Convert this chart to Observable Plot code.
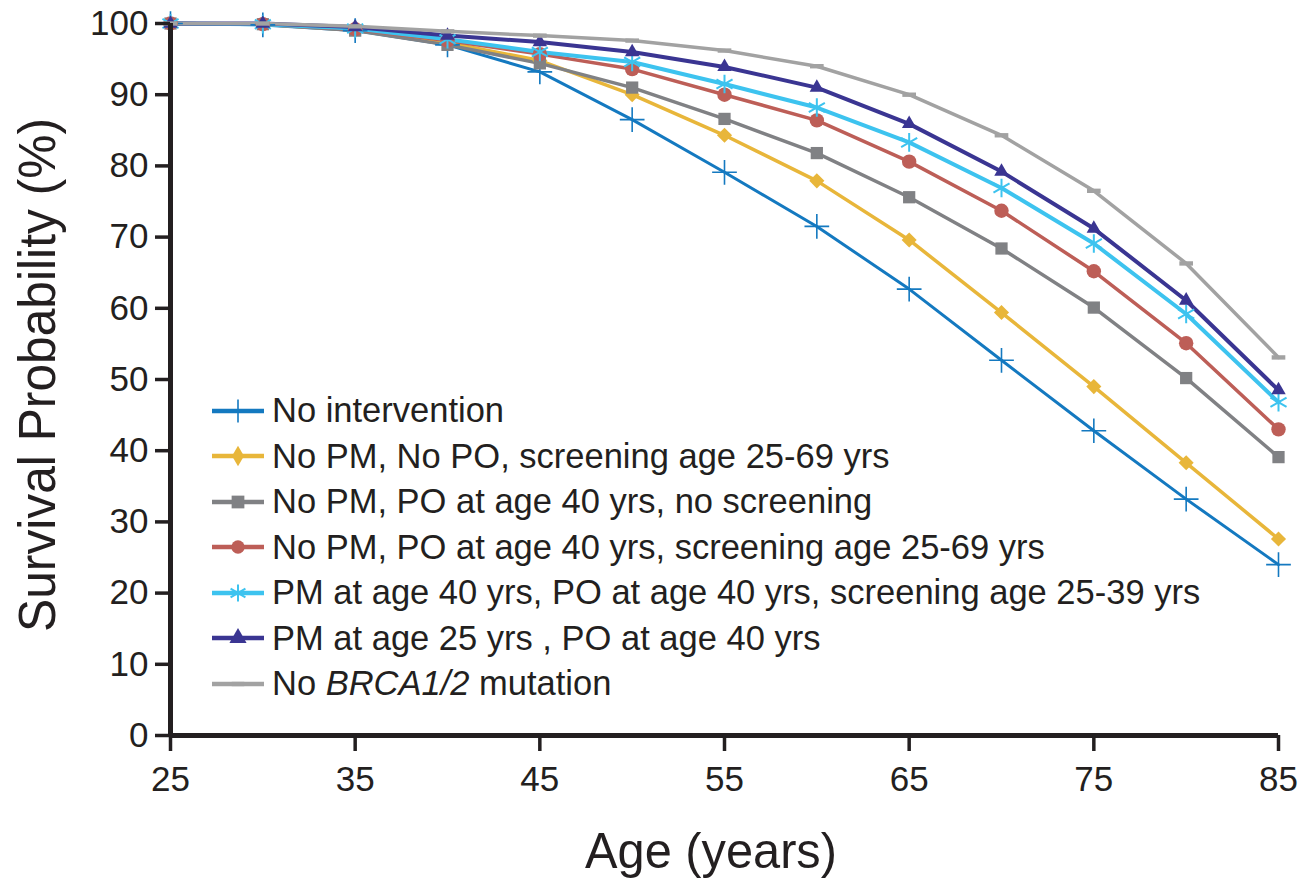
<!DOCTYPE html>
<html>
<head>
<meta charset="utf-8">
<script src="https://cdn.jsdelivr.net/npm/d3@7"></script>
<script src="https://cdn.jsdelivr.net/npm/@observablehq/plot@0.6"></script>
<style>
  html, body { margin: 0; padding: 0; background: #fff; }
  #wrap { position: relative; width: 1301px; height: 883px; font-family: 'Liberation Sans', Arial, sans-serif; color: #231f20; }
  #legend { position: absolute; left: 210px; top: 388px; }
  .row { display: flex; align-items: center; height: 45.5px; font-size: 34.5px; white-space: nowrap; }
  .row svg { margin-right: 6px; flex: none; }
</style>
</head>
<body>
<div id="wrap"><div id="legend"></div></div>
<script>
// ---- data ----
const ages = [25, 30, 35, 40, 45, 50, 55, 60, 65, 70, 75, 80, 85];
const noIntervention = [100, 99.8, 99.0, 97.0, 93.2, 86.5, 79.1, 71.5, 62.7, 52.7, 42.8, 33.2, 24.0];
const noPmNoPoScreen = [100, 99.9, 99.1, 97.3, 94.8, 90.0, 84.3, 77.9, 69.6, 59.4, 49.0, 38.3, 27.6];
const noPmPo40NoScreen = [100, 99.9, 99.0, 97.0, 94.4, 91.0, 86.6, 81.8, 75.6, 68.4, 60.1, 50.2, 39.1];
const noPmPo40Screen = [100, 99.9, 99.2, 97.6, 95.7, 93.6, 90.0, 86.4, 80.6, 73.7, 65.2, 55.1, 43.0];
const pm40Po40Screen = [100, 99.9, 99.3, 97.8, 96.0, 94.6, 91.5, 88.2, 83.3, 76.9, 69.1, 59.2, 46.8];
const pm25Po40 = [100, 100, 99.5, 98.3, 97.4, 96.0, 93.9, 91.0, 85.9, 79.2, 71.2, 61.1, 48.5];
const noBrca = [100, 100, 99.6, 98.9, 98.3, 97.6, 96.2, 94.0, 90.0, 84.3, 76.5, 66.3, 53.1];

const seriesNames = [
  "No intervention",
  "No PM, No PO, screening age 25-69 yrs",
  "No PM, PO at age 40 yrs, no screening",
  "No PM, PO at age 40 yrs, screening age 25-69 yrs",
  "PM at age 40 yrs, PO at age 40 yrs, screening age 25-39 yrs",
  "PM at age 25 yrs , PO at age 40 yrs",
  "No BRCA1/2 mutation"
];
const seriesValues = [noIntervention, noPmNoPoScreen, noPmPo40NoScreen, noPmPo40Screen, pm40Po40Screen, pm25Po40, noBrca];
const xTicks = [25, 35, 45, 55, 65, 75, 85];
const yTicks = [0, 10, 20, 30, 40, 50, 60, 70, 80, 90, 100];

// ---- styles ----
const dashSymbol = { draw(ctx, size) { const w = Math.sqrt(size) * 0.55; ctx.moveTo(-w, -2.2); ctx.lineTo(w, -2.2); ctx.lineTo(w, 2.2); ctx.lineTo(-w, 2.2); ctx.closePath(); } };
const styles = [
  { color: "#1479c0", width: 3,   symbol: "plus",      r: 8,   filled: false, sw: 1.6 },
  { color: "#e8b63a", width: 3.5, symbol: "diamond2",  r: 6.8, filled: true },
  { color: "#808184", width: 3.5, symbol: "square2",   r: 7.8, filled: true },
  { color: "#bd5e57", width: 3.5, symbol: "circle",    r: 7.2, filled: true },
  { color: "#3dc3ef", width: 4,   symbol: "asterisk",  r: 8.8, filled: false, sw: 2 },
  { color: "#3a3592", width: 4,   symbol: "triangle2", r: 6.9, filled: true },
  { color: "#a2a2a2", width: 3.5, symbol: dashSymbol,  r: 7,   filled: true }
];

const rows = seriesValues.map((vals, i) => ages.map((a, j) => ({ age: a, value: vals[j], series: seriesNames[i] })));

const dataMarks = [];
rows.forEach((data, i) => {
  const s = styles[i];
  dataMarks.push(Plot.line(data, { x: "age", y: "value", stroke: s.color, strokeWidth: s.width }));
});
rows.forEach((data, i) => {
  const s = styles[i];
  dataMarks.push(Plot.dot(data, {
    x: "age", y: "value", symbol: s.symbol, r: s.r,
    fill: s.filled ? s.color : "none",
    stroke: s.filled ? "none" : s.color,
    strokeWidth: s.sw || 1
  }));
});

const chart = Plot.plot({
  width: 1301, height: 883,
  marginLeft: 170, marginRight: 23, marginTop: 23, marginBottom: 148,
  x: { domain: [25, 85] },
  y: { domain: [0, 100] },
  style: { fontFamily: "'Liberation Sans', Arial, sans-serif", color: "#231f20", background: "white", overflow: "visible" },
  marks: [
    ...dataMarks,
    Plot.ruleY([0], { stroke: "#231f20", strokeWidth: 5 }),
    Plot.ruleX([25], { stroke: "#231f20", strokeWidth: 5 }),
    Plot.axisY({ ticks: yTicks, tickSize: 15, tickPadding: 7, strokeWidth: 3.5, fontSize: 35, label: null }),
    Plot.axisX({ ticks: xTicks, tickSize: 16, tickPadding: 15, strokeWidth: 3.5, fontSize: 35, label: null })
  ]
});

const wrap = document.getElementById("wrap");
wrap.insertBefore(chart, wrap.firstChild);

// axis titles
const svg = d3.select(chart);
svg.append("text")
  .attr("transform", "translate(55,375) rotate(-90)")
  .attr("text-anchor", "middle")
  .attr("font-size", 52)
  .attr("fill", "#231f20")
  .attr("textLength", 514)
  .attr("lengthAdjust", "spacingAndGlyphs")
  .text("Survival Probability (%)");
svg.append("text")
  .attr("x", 711).attr("y", 868)
  .attr("text-anchor", "middle")
  .attr("font-size", 50)
  .attr("fill", "#231f20")
  .attr("textLength", 252)
  .attr("lengthAdjust", "spacingAndGlyphs")
  .text("Age (years)");

// legend
const legend = d3.select("#legend");
seriesNames.forEach((name, i) => {
  const s = styles[i];
  const row = legend.append("div").attr("class", "row");
  const sw = row.append("svg").attr("width", 56).attr("height", 24);
  sw.append("line").attr("x1", 2).attr("x2", 54).attr("y1", 12).attr("y2", 12)
    .attr("stroke", s.color).attr("stroke-width", 4.5);
  const symType = typeof s.symbol === "string"
    ? { plus: d3.symbolPlus, diamond2: d3.symbolDiamond, square2: d3.symbolSquare, circle: d3.symbolCircle, asterisk: d3.symbolAsterisk, triangle2: d3.symbolTriangle }[s.symbol]
    : s.symbol;
  const size = Math.PI * s.r * s.r * 0.85;
  sw.append("path").attr("transform", "translate(28,12)")
    .attr("d", d3.symbol(symType, size)())
    .attr("fill", s.filled ? s.color : "none")
    .attr("stroke", s.filled ? "none" : s.color)
    .attr("stroke-width", s.sw || 1);
  const label = row.append("span");
  if (name.includes("BRCA1/2")) {
    const parts = name.split("BRCA1/2");
    label.append("span").text(parts[0]);
    label.append("i").text("BRCA1/2");
    label.append("span").text(parts[1]);
  } else {
    label.text(name);
  }
});
</script>
</body>
</html>
